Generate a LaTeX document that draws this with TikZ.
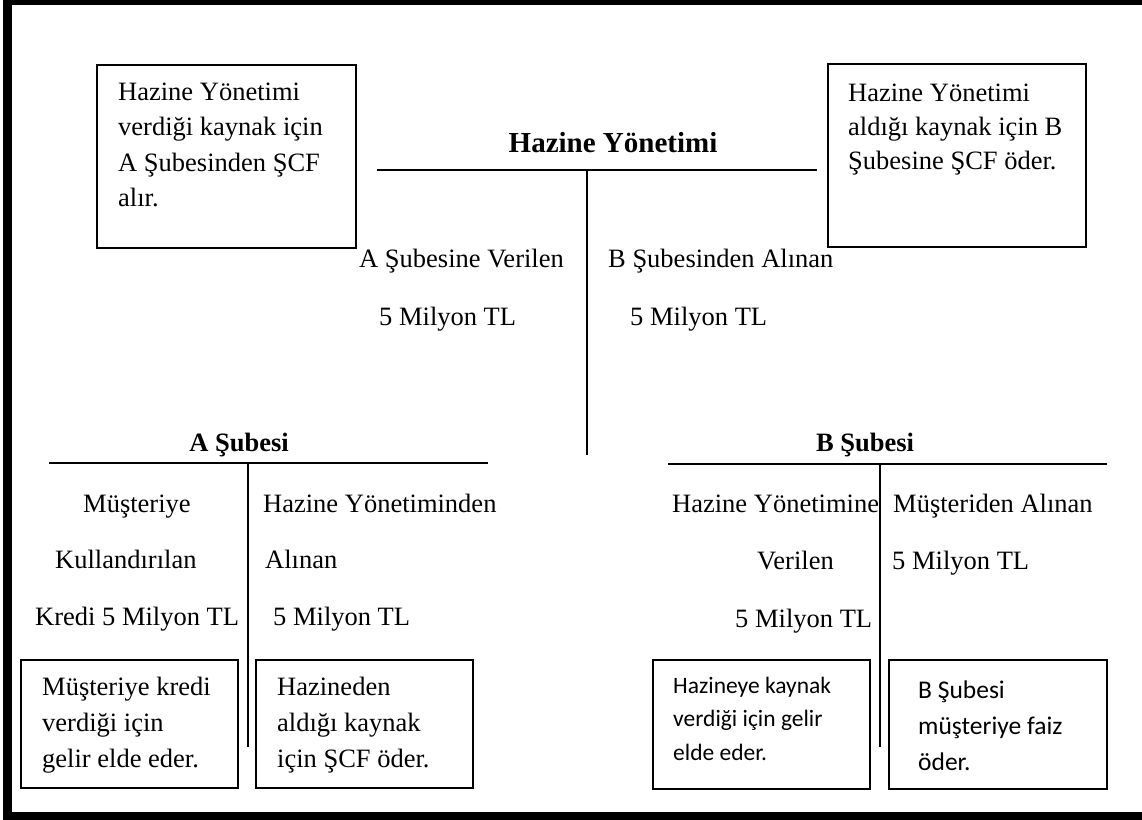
\documentclass[tikz,border=0pt]{standalone}
\usepackage{fontspec}
\setmainfont{Liberation Serif}
\newfontfamily\calfont{Carlito}
\tikzset{
  frame/.style={draw=black, line width=9pt},
  tline/.style={draw=black, line width=2pt},
  vline/.style={draw=black, line width=1.8pt},
  notebox/.style={draw=black, line width=1.8pt},
  txt/.style={inner sep=0pt, anchor=base west, font=\fontsize{26.5}{35.5}\selectfont},
  ttl/.style={inner sep=0pt, anchor=base, font=\bfseries\fontsize{26.5}{35}\selectfont},
}
\begin{document}
\begin{tikzpicture}[x=1pt,y=-1pt]
\useasboundingbox (0,0) rectangle (1142,819);
\clip (0,0) rectangle (1142,819);
\fill[white] (0,0) rectangle (1142,819);
% outer frame (right edge falls outside the picture)
\draw[frame] (7.5,0.5) rectangle (1160,816.5);

% top note boxes
\draw[notebox] (97,65) rectangle (356,248);
\node[txt] (tl) at (118,100) {\begin{tabular}[t]{@{}l@{}}Hazine Yönetimi\\verdiği kaynak için\\A Şubesinden ŞCF\\alır.\end{tabular}};
\draw[notebox] (828,64) rectangle (1086,247);
\node[txt, font=\fontsize{26.5}{34}\selectfont] (tr) at (848,101) {\begin{tabular}[t]{@{}l@{}}Hazine Yönetimi\\aldığı kaynak için B\\Şubesine ŞCF öder.\end{tabular}};

% Hazine Yönetimi T-account
\node[ttl, font=\bfseries\fontsize{29}{35}\selectfont] (hy) at (613,152) {Hazine Yönetimi};
\coordinate (hyL) at (377,170);
\coordinate (hyR) at (817,170);
\coordinate (hyT) at (587,170);
\coordinate (hyB) at (587,455);
\draw[tline] (hyL) -- (hyR);
\draw[vline] (hyT) -- (hyB);
\node[txt] (hy1) at (359,267) {A Şubesine Verilen};
\node[txt] (hy2) at (379,325) {5 Milyon TL};
\node[txt] (hy3) at (608,267) {B Şubesinden Alınan};
\node[txt] (hy4) at (630,325) {5 Milyon TL};

% A Şubesi T-account
\node[ttl] (as) at (239,451) {A Şubesi};
\coordinate (asL) at (49,463);
\coordinate (asR) at (488,463);
\coordinate (asT) at (248,463);
\coordinate (asB) at (248,747);
\draw[tline] (asL) -- (asR);
\draw[vline] (asT) -- (asB);
\node[txt] (a1) at (83,512) {Müşteriye};
\node[txt] (a2) at (55,568) {Kullandırılan};
\node[txt] (a3) at (35,625) {Kredi 5 Milyon TL};
\node[txt] (a4) at (263,512) {Hazine Yönetiminden};
\node[txt] (a5) at (265,568) {Alınan};
\node[txt] (a6) at (273,625) {5 Milyon TL};
\draw[notebox] (21,660) rectangle (238,788);
\node[txt, font=\fontsize{26.5}{36}\selectfont] (ab1) at (42,695) {\begin{tabular}[t]{@{}l@{}}Müşteriye kredi\\verdiği için\\gelir elde eder.\end{tabular}};
\draw[notebox] (256,660) rectangle (473,788);
\node[txt, font=\fontsize{26.5}{36}\selectfont] (ab2) at (277,695) {\begin{tabular}[t]{@{}l@{}}Hazineden\\aldığı kaynak\\için ŞCF öder.\end{tabular}};

% B Şubesi T-account
\node[ttl] (bs) at (865,451) {B Şubesi};
\coordinate (bsL) at (668,464);
\coordinate (bsR) at (1107,464);
\coordinate (bsT) at (880,464);
\coordinate (bsB) at (880,747);
\draw[tline] (bsL) -- (bsR);
\draw[vline] (bsT) -- (bsB);
\node[txt] (b1) at (672,512) {Hazine Yönetimine};
\node[txt] (b2) at (757,569) {Verilen};
\node[txt] (b3) at (735,627) {5 Milyon TL};
\node[txt] (b4) at (893,512) {Müşteriden Alınan};
\node[txt] (b5) at (892,569) {5 Milyon TL};
\draw[notebox] (653,660) rectangle (870,789);
\node[txt, font=\calfont\fontsize{23.5}{33.5}\selectfont] (bb1) at (673,693) {\begin{tabular}[t]{@{}l@{}}Hazineye kaynak\\verdiği için gelir\\elde eder.\end{tabular}};
\draw[notebox] (889,660) rectangle (1107,789);
\node[txt, font=\calfont\fontsize{25.5}{36}\selectfont] (bb2) at (918,698) {\begin{tabular}[t]{@{}l@{}}B Şubesi\\müşteriye faiz\\öder.\end{tabular}};
\end{tikzpicture}
\end{document}
